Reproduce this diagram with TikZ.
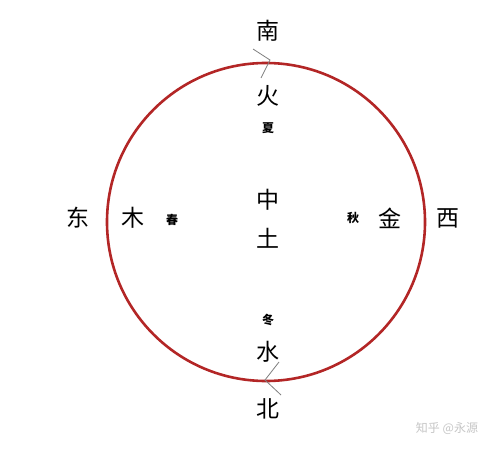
\documentclass[tikz,border=0pt]{standalone}
\usepackage{fontspec}
\setmainfont{Noto Sans CJK SC}
\usetikzlibrary{positioning}

\begin{document}
\begin{tikzpicture}[x=1pt, y=-1pt,
    big/.style={inner sep=0pt, font=\fontsize{23}{23}\selectfont},
    small/.style={inner sep=0pt, font=\fontsize{12}{12}\selectfont\bfseries},
    tick/.style={gray, line width=0.8pt}]

            \useasboundingbox[fill=white] (0,0) rectangle (498,449);

            % the circle
            \coordinate (c) at (266,222);
            \draw[red!65!black, line width=2.6pt, opacity=0.85] (c) circle[radius=159];

            % directions
            \node[big] (south) at (268,31) {南};
            \node[big] (north) at (268,409) {北};
            \node[big] (east) at (78,218) {东};
            \node[big] (west) at (448,218) {西};

            % elements
            \node[big] (fire) at (268,96) {火};
            \node[big] (water) at (268,352) {水};
            \node[big] (wood) at (133,218) {木};
            \node[big] (metal) at (390,218) {金};
            \node[big] (mid) at (268,200) {中};
            \node[big] (earth) at (268,238) {土};

            % seasons
            \node[small] (summer) at (268,128) {夏};
            \node[small] (winter) at (268,320) {冬};
            \node[small] (spring) at (172,220) {春};
            \node[small] (autumn) at (353,218) {秋};

            % direction marks on the circle
            \coordinate (t1) at (253,49);
            \coordinate (t2) at (270,60);
            \coordinate (t3) at (261,78);
            \draw[tick] (t1) -- (t2) -- (t3);
            \coordinate (b1) at (279,362);
            \coordinate (b2) at (265,380);
            \coordinate (b3) at (281,395);
            \draw[tick] (b1) -- (b2) -- (b3);

            \node[inner sep=0pt, text=gray!45, font=\fontsize{12}{12}\selectfont] (mark) at (447,428) {知乎 @永源};

        \end{tikzpicture}
\end{document}
